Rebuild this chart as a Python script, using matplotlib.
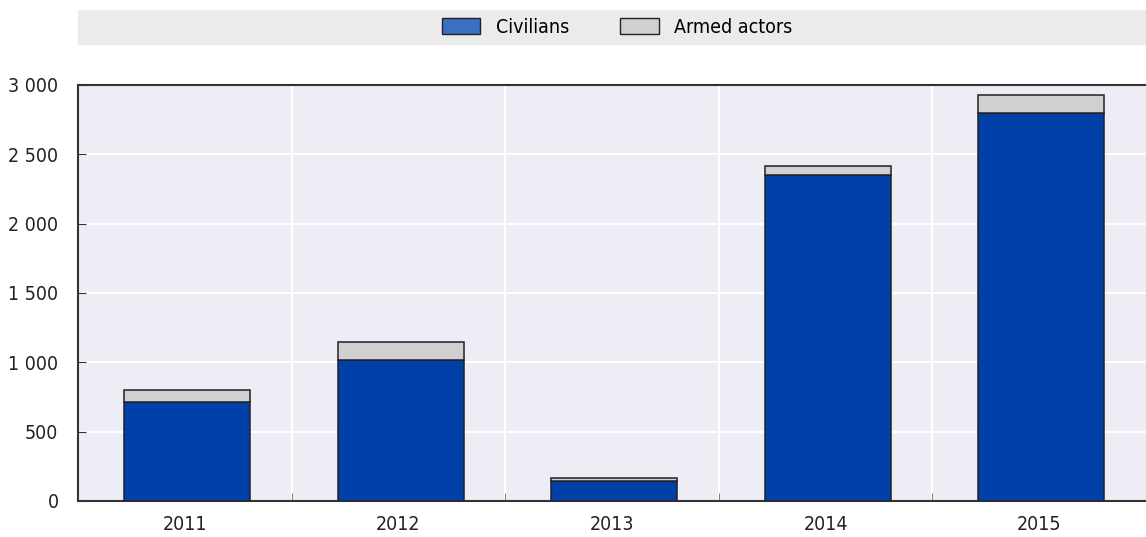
import matplotlib.pyplot as plt
from matplotlib.patches import Patch, Rectangle
from matplotlib.ticker import FuncFormatter, MultipleLocator
import numpy as np

years = ["2011", "2012", "2013", "2014", "2015"]
civilians = [714, 1016, 146, 2348, 2797]
armed_actors = [86, 130, 22, 67, 128]

plt.rcParams["font.family"] = ["DejaVu Sans"]
plt.rcParams["font.stretch"] = "condensed"
plt.rcParams["font.size"] = 14

fig = plt.figure(figsize=(11.46, 5.37), dpi=100)
ax = fig.add_axes([78 / 1146, 1 - 501 / 537, 1068 / 1146, 416 / 537])

x = np.arange(len(years))
ax.bar(x + 0.01, civilians, width=0.59, color="#0040A8", edgecolor="#222222", linewidth=1.1, zorder=3)
ax.bar(x + 0.01, armed_actors, bottom=civilians, width=0.59, color="#D0D0D0",
       edgecolor="#222222", linewidth=1.1, zorder=3)

ax.set_facecolor("#EDEDF6")
ax.set_xlim(-0.5, len(years) - 0.5)
ax.set_ylim(0, 3000)
ax.yaxis.set_major_locator(MultipleLocator(500))
ax.yaxis.set_major_formatter(FuncFormatter(lambda v, p: f"{int(v):,}".replace(",", " ")))
ax.set_xticks(x)
ax.set_xticklabels(years)
ax.set_xticks(x[:-1] + 0.5, minor=True)
ax.tick_params(axis="x", which="major", length=0, pad=10, colors="#222222")
ax.tick_params(axis="x", which="minor", direction="in", length=6, color="#666666")
ax.tick_params(axis="y", direction="in", length=6, color="#333333", pad=14, colors="#222222")
ax.grid(axis="y", color="white", linewidth=1.5, zorder=0)
ax.grid(axis="x", which="minor", color="white", linewidth=1.5, zorder=0)
for side in ["top", "left", "bottom"]:
    ax.spines[side].set_color("#333333")
    ax.spines[side].set_linewidth(1.5)
ax.spines["right"].set_visible(False)

# legend band
fig.patches.append(Rectangle((78 / 1146, 1 - 44 / 537), 1068 / 1146, 34 / 537,
                             transform=fig.transFigure, color="#EBEBEB", zorder=0))
handles = [Patch(facecolor="#3A70C4", edgecolor="#222222", label="Civilians"),
           Patch(facecolor="#D0D0D0", edgecolor="#222222", label="Armed actors")]
fig.legend(handles=handles, loc="center", bbox_to_anchor=(617 / 1146, 1 - 27 / 537),
           ncol=2, frameon=False, handlelength=2.0, handleheight=0.9,
           columnspacing=2.6, handletextpad=0.8)

fig.savefig("out.png", dpi=100)
